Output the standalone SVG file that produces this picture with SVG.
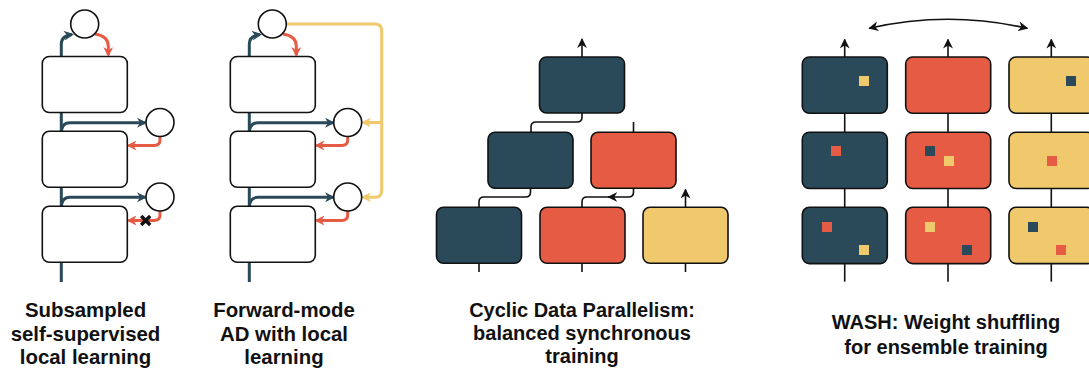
<svg xmlns="http://www.w3.org/2000/svg" width="1089" height="371" viewBox="0 0 1089 371">
<style>
.box{fill:#fff;stroke:#111;stroke-width:1.6}
.cir{fill:#fff;stroke:#111;stroke-width:1.6}
.d{fill:#2a4a5a;stroke:#111;stroke-width:1.6}
.r{fill:#e55b43;stroke:#111;stroke-width:1.6}
.y{fill:#efc96c;stroke:#111;stroke-width:1.6}
.sd{fill:#2a4a5a}.sr{fill:#e55b43}.sy{fill:#efc96c}
.lb{fill:none;stroke:#2a4a5a;stroke-width:3}
.lr{fill:none;stroke:#e55b43;stroke-width:3}
.ly{fill:none;stroke:#efc96c;stroke-width:3}
.lk{fill:none;stroke:#111;stroke-width:1.6}
.t{font-family:"Liberation Sans",Arial,sans-serif;font-weight:bold;font-size:20px;fill:#111;text-anchor:middle}
.t2{font-size:20.4px}
</style>
<defs>
<marker id="mk" viewBox="0 0 10 10" refX="9" refY="5" markerWidth="10" markerHeight="10" markerUnits="userSpaceOnUse" orient="auto-start-reverse"><path d="M0,0 L10,5 L0,10 L3,5 z" fill="#111"/></marker>
<marker id="mb" viewBox="0 0 10 10" refX="8" refY="5" markerWidth="10" markerHeight="10" markerUnits="userSpaceOnUse" orient="auto"><path d="M0,0 L10,5 L0,10 L3,5 z" fill="#2a4a5a"/></marker>
<marker id="mr" viewBox="0 0 10 10" refX="8" refY="5" markerWidth="10" markerHeight="10" markerUnits="userSpaceOnUse" orient="auto"><path d="M0,0 L10,5 L0,10 L3,5 z" fill="#e55b43"/></marker>
<marker id="my" viewBox="0 0 10 10" refX="8" refY="5" markerWidth="10" markerHeight="10" markerUnits="userSpaceOnUse" orient="auto"><path d="M0,0 L10,5 L0,10 L3,5 z" fill="#efc96c"/></marker>
</defs>
<rect width="1089" height="371" fill="#fff"/>

<!-- connectors -->
<g id="connectors">
  <!-- panel 1 -->
  <path class="lb" d="M61.3,282 V56"/>
  <path class="lb" d="M61.3,56 V44 Q61.3,36 72,34.5" marker-end="url(#mb)"/>
  <path class="lr" d="M95,34 Q108.3,36 108.3,46 V55" marker-end="url(#mr)"/>
  <path class="lb" d="M61.3,133 Q61.3,122.7 70,122.7 H145" marker-end="url(#mb)"/>
  <path class="lr" d="M160,136.5 V140 Q160,145.5 154,145.5 H128.5" marker-end="url(#mr)"/>
  <path class="lb" d="M61.3,208 Q61.3,197.3 70,197.3 H145" marker-end="url(#mb)"/>
  <path class="lr" d="M160,211 V215 Q160,220.5 154,220.5 H128.5" marker-end="url(#mr)"/>
  <path d="M141.2,216 L150.2,225 M150.2,216 L141.2,225" stroke="#111" stroke-width="3.4"/>
  <!-- panel 2 -->
  <path class="lb" d="M249.3,282 V56"/>
  <path class="lb" d="M249.3,56 V44 Q249.3,36 260,34.5" marker-end="url(#mb)"/>
  <path class="lr" d="M283,34 Q296.3,36 296.3,46 V55" marker-end="url(#mr)"/>
  <path class="lb" d="M249.3,133 Q249.3,122.7 258,122.7 H333" marker-end="url(#mb)"/>
  <path class="lr" d="M347.7,136.5 V140 Q347.7,145.5 341.7,145.5 H316.5" marker-end="url(#mr)"/>
  <path class="lb" d="M249.3,208 Q249.3,197.3 258,197.3 H333" marker-end="url(#mb)"/>
  <path class="lr" d="M347.7,211 V215 Q347.7,220.5 341.7,220.5 H316.5" marker-end="url(#mr)"/>
  <path class="ly" d="M286.3,24 H375 Q381.7,24 381.7,31 V190 Q381.7,197.3 375,197.3 H363" marker-end="url(#my)"/>
  <path class="ly" d="M381.7,122.5 H363" marker-end="url(#my)"/>
  <!-- panel 3 -->
  <path class="lk" d="M582,57 V39" marker-end="url(#mk)"/>
  <path class="lk" d="M582,113 V117 Q582,122 577,122 H536 Q531,122 531,127 V132"/>
  <path class="lk" d="M633.5,132 V122"/>
  <path class="lk" d="M530.5,188 V192 Q530.5,197 525.5,197 H484 Q479,197 479,202 V207"/>
  <path class="lk" d="M633.5,188 V192 Q633.5,197 628.5,197 H608.3" marker-end="url(#mk)"/>
  <path class="lk" d="M610,197 H587 Q582,197 582,202 V207"/>
  <path class="lk" d="M685.5,207 V189.5" marker-end="url(#mk)"/>
  <path class="lk" d="M479,263 V272 M582,263 V272 M685.5,263 V272"/>
  <!-- panel 4 -->
  <path class="lk" d="M844.7,281.7 V39.5" marker-end="url(#mk)"/>
  <path class="lk" d="M948,281.7 V39.5" marker-end="url(#mk)"/>
  <path class="lk" d="M1051.3,281.7 V39.5" marker-end="url(#mk)"/>
  <path class="lk" d="M869.3,28.3 Q948,10.3 1027.3,28.3" marker-start="url(#mk)" marker-end="url(#mk)"/>
</g>

<!-- panel 1 nodes -->
<g id="p1-box1"><rect class="box" x="42.3" y="56.5" width="85" height="56" rx="7"/></g>
<g id="p1-box2"><rect class="box" x="42.3" y="131.3" width="85" height="56" rx="7"/></g>
<g id="p1-box3"><rect class="box" x="42.3" y="206.3" width="85" height="56" rx="7"/></g>
<g id="p1-c1"><circle class="cir" cx="84.7" cy="24" r="14"/></g>
<g id="p1-c2"><circle class="cir" cx="160" cy="122.5" r="14"/></g>
<g id="p1-c3"><circle class="cir" cx="160" cy="197" r="14"/></g>

<!-- panel 2 nodes -->
<g id="p2-box1"><rect class="box" x="230.3" y="56.5" width="85" height="56" rx="7"/></g>
<g id="p2-box2"><rect class="box" x="230.3" y="131.3" width="85" height="56" rx="7"/></g>
<g id="p2-box3"><rect class="box" x="230.3" y="206.3" width="85" height="56" rx="7"/></g>
<g id="p2-c1"><circle class="cir" cx="272.3" cy="24" r="14"/></g>
<g id="p2-c2"><circle class="cir" cx="347.7" cy="122.5" r="14"/></g>
<g id="p2-c3"><circle class="cir" cx="347.7" cy="197" r="14"/></g>

<!-- panel 3 nodes -->
<g id="p3-top"><rect class="d" x="539.5" y="57" width="85" height="56" rx="7"/></g>
<g id="p3-m1"><rect class="d" x="488" y="132.3" width="85" height="56" rx="7"/></g>
<g id="p3-m2"><rect class="r" x="591" y="132.3" width="85" height="56" rx="7"/></g>
<g id="p3-b1"><rect class="d" x="436.5" y="207.3" width="85" height="56" rx="7"/></g>
<g id="p3-b2"><rect class="r" x="540" y="207.3" width="85" height="56" rx="7"/></g>
<g id="p3-b3"><rect class="y" x="643" y="207.3" width="85" height="56" rx="7"/></g>

<!-- panel 4 nodes -->
<g id="p4-a1"><rect class="d" x="802.3" y="57" width="85" height="56.3" rx="7"/><rect class="sy" x="859" y="76" width="10" height="10"/></g>
<g id="p4-a2"><rect class="d" x="802.3" y="132.2" width="85" height="56.3" rx="7"/><rect class="sr" x="831" y="146" width="10" height="10"/></g>
<g id="p4-a3"><rect class="d" x="802.3" y="207.3" width="85" height="56.3" rx="7"/><rect class="sr" x="822" y="222" width="10" height="10"/><rect class="sy" x="859" y="245" width="10" height="10"/></g>
<g id="p4-b1"><rect class="r" x="905.7" y="57" width="85" height="56.3" rx="7"/></g>
<g id="p4-b2"><rect class="r" x="905.7" y="132.2" width="85" height="56.3" rx="7"/><rect class="sd" x="925" y="146" width="10" height="10"/><rect class="sy" x="944" y="156" width="10" height="10"/></g>
<g id="p4-b3"><rect class="r" x="905.7" y="207.3" width="85" height="56.3" rx="7"/><rect class="sy" x="925" y="222" width="10" height="10"/><rect class="sd" x="962" y="245" width="10" height="10"/></g>
<g id="p4-c1"><rect class="y" x="1009" y="57" width="85" height="56.3" rx="7"/><rect class="sd" x="1066" y="76" width="10" height="10"/></g>
<g id="p4-c2"><rect class="y" x="1009" y="132.2" width="85" height="56.3" rx="7"/><rect class="sr" x="1047" y="156" width="10" height="10"/></g>
<g id="p4-c3"><rect class="y" x="1009" y="207.3" width="85" height="56.3" rx="7"/><rect class="sd" x="1028" y="222" width="10" height="10"/><rect class="sr" x="1056" y="245" width="10" height="10"/></g>

<!-- labels -->
<g id="label1"><text class="t t2" x="85.5" y="317">Subsampled</text><text class="t t2" x="85.5" y="340.5">self-supervised</text><text class="t t2" x="85.5" y="364">local learning</text></g>
<g id="label2"><text class="t t2" x="284" y="317">Forward-mode</text><text class="t t2" x="284" y="340.5">AD with local</text><text class="t t2" x="284" y="364">learning</text></g>
<g id="label3"><text class="t" x="582" y="317">Cyclic Data Parallelism:</text><text class="t" x="582" y="340">balanced synchronous</text><text class="t" x="582" y="363">training</text></g>
<g id="label4"><text class="t" x="946" y="329.3">WASH: Weight shuffling</text><text class="t" x="946" y="354">for ensemble training</text></g>
</svg>
